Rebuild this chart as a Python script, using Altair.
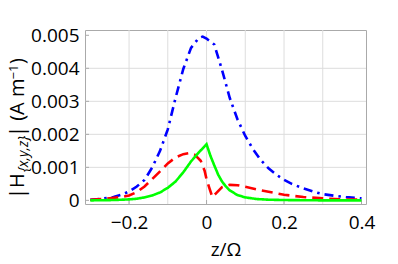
import altair as alt
import pandas as pd

# ---- data ----
z_blue = [-0.30, -0.27, -0.24, -0.22, -0.20, -0.18, -0.16, -0.14, -0.12, -0.10, -0.08, -0.06,
          -0.04, -0.02, -0.01, 0.00, 0.02, 0.04, 0.06, 0.08, 0.10, 0.12, 0.14, 0.16, 0.18,
          0.20, 0.22, 0.25, 0.28, 0.30, 0.33, 0.36, 0.40]
h_blue = [0.00002, 0.00005, 0.00010, 0.00017, 0.00027, 0.00042, 0.00062, 0.00100, 0.00150,
          0.00215, 0.00310, 0.00398, 0.00462, 0.00492, 0.00496, 0.00490, 0.00472, 0.00395,
          0.00310, 0.00245, 0.00195, 0.00155, 0.00122, 0.00097, 0.00078, 0.00062, 0.00050,
          0.00036, 0.00025, 0.00019, 0.00014, 0.00010, 0.00006]

z_red = [-0.30, -0.26, -0.22, -0.20, -0.18, -0.16, -0.14, -0.12, -0.10, -0.08, -0.06, -0.045,
         -0.03, -0.015, -0.005, 0.00, 0.008, 0.015, 0.025, 0.04, 0.06, 0.08, 0.10, 0.13, 0.16,
         0.20, 0.25, 0.30, 0.35, 0.40]
h_red = [0.00002, 0.00005, 0.00010, 0.00015, 0.00025, 0.00042, 0.00065, 0.00088, 0.00112,
         0.00130, 0.00140, 0.00143, 0.00138, 0.00120, 0.00090, 0.00064, 0.00035, 0.00010,
         0.00022, 0.00040, 0.00047, 0.00046, 0.00041, 0.00033, 0.00026, 0.00017, 0.00010,
         0.00006, 0.00003, 0.00002]

z_green = [-0.30, -0.24, -0.20, -0.18, -0.16, -0.14, -0.12, -0.10, -0.08, -0.06, -0.04, -0.02,
           0.00, 0.01, 0.02, 0.03, 0.04, 0.05, 0.06, 0.08, 0.10, 0.13, 0.16, 0.20, 0.30, 0.40]
h_green = [0.00000, 0.00001, 0.00003, 0.00005, 0.00009, 0.00015, 0.00024, 0.00038, 0.00057,
           0.00085, 0.00118, 0.00145, 0.00170, 0.00135, 0.00106, 0.00078, 0.00057, 0.00042,
           0.00030, 0.00016, 0.00009, 0.00004, 0.00002, 0.00001, 0.00000, 0.00000]

series_names = ["Hz", "Hy", "Hx"]
series_colors = ["#0000ff", "#ff0000", "#00ff00"]
series_dash = [[9, 5, 2.5, 5], [11, 6], [1, 0]]

x_ticks = [-0.2, 0.0, 0.2, 0.4]
y_ticks = [0.0, 0.001, 0.002, 0.003, 0.004, 0.005]
x_grid = [-0.2, -0.1, 0.0, 0.1, 0.2, 0.3]
y_grid = [0.001, 0.002, 0.003, 0.004]

x_domain = [-0.3137, 0.4116]
y_domain = [-0.00011, 0.00516]

FONT = "Open Sans"

rows = []
for name, zs, hs in [("Hz", z_blue, h_blue), ("Hy", z_red, h_red), ("Hx", z_green, h_green)]:
    for i, (zv, hv) in enumerate(zip(zs, hs)):
        rows.append({"series": name, "z": zv, "h": hv, "order": i})
df = pd.DataFrame(rows)

xs = alt.Scale(domain=x_domain, nice=False, zero=False)
ys = alt.Scale(domain=y_domain, nice=False, zero=False)

x_axis = alt.Axis(
    values=x_ticks, grid=False, ticks=False, domain=False,
    labelExpr="datum.value == 0 ? '0' : format(datum.value, '.1f')",
    labelFont=FONT, labelFontSize=19, labelColor="black", labelPadding=9,
    title="z/Ω", titleFont=FONT, titleFontSize=19, titleFontWeight="normal",
    titleColor="black", titlePadding=8)
y_axis = alt.Axis(
    values=y_ticks, grid=False, ticks=False, domain=False,
    labelExpr="datum.value == 0 ? '0' : format(datum.value, '.3f')",
    labelFont=FONT, labelFontSize=19, labelColor="black", labelPadding=6,
    title=None)

gridx = alt.Chart(pd.DataFrame({"z": x_grid})).mark_rule(color="#dddddd", strokeWidth=1).encode(
    x=alt.X("z:Q", scale=xs, axis=x_axis))
gridy = alt.Chart(pd.DataFrame({"h": y_grid})).mark_rule(color="#dddddd", strokeWidth=1).encode(
    y=alt.Y("h:Q", scale=ys, axis=y_axis))

lines = alt.Chart(df).mark_line(strokeWidth=2.6).encode(
    x=alt.X("z:Q", scale=xs, axis=x_axis),
    y=alt.Y("h:Q", scale=ys, axis=y_axis),
    color=alt.Color("series:N", scale=alt.Scale(domain=series_names, range=series_colors), legend=None),
    strokeDash=alt.StrokeDash("series:N", scale=alt.Scale(domain=series_names, range=series_dash), legend=None),
    order="order:Q",
    detail="series:N",
)

# small inward frame ticks
tick_left = alt.Chart(pd.DataFrame({"h": y_ticks})).mark_rule(color="#aaaaaa").encode(
    y=alt.Y("h:Q", scale=ys, axis=y_axis), x=alt.value(0), x2=alt.value(4))
tick_bottom = alt.Chart(pd.DataFrame({"z": x_ticks})).mark_rule(color="#aaaaaa").encode(
    x=alt.X("z:Q", scale=xs, axis=x_axis), y=alt.value(174), y2=alt.value(170))

# y-axis title "|H{x,y,z}| (A m^-1)" built from pieces (sub/superscript), chained upward
def piece(text, x, y, size, style="normal"):
    return alt.Chart(pd.DataFrame({"t": [text]})).mark_text(
        font=FONT, fontSize=size, fontStyle=style, angle=270, align="left",
        baseline="alphabetic", color="black").encode(
        text="t:N", x=alt.value(x), y=alt.value(y))

MB = -61      # main baseline (plot coords)
title_pieces = [
    piece("|H", MB, 169, 20),
    piece("{x,y,z}", MB + 3.5, 142, 14, "italic"),
    piece("| (A m", MB, 107, 20),
    piece("−1", MB - 6, 49.5, 13),
    piece(")", MB, 34, 20),
]

chart = alt.layer(gridx, gridy, tick_left, tick_bottom, lines, *title_pieces).properties(
    width=281, height=174,
    autosize=alt.AutoSizeParams(type="none"),
    padding={"left": 77, "top": 22, "right": 24, "bottom": 52},
).configure_view(stroke="#aaaaaa", strokeWidth=1)

chart.save("out.html", embed_options={"renderer": "svg", "actions": False})
